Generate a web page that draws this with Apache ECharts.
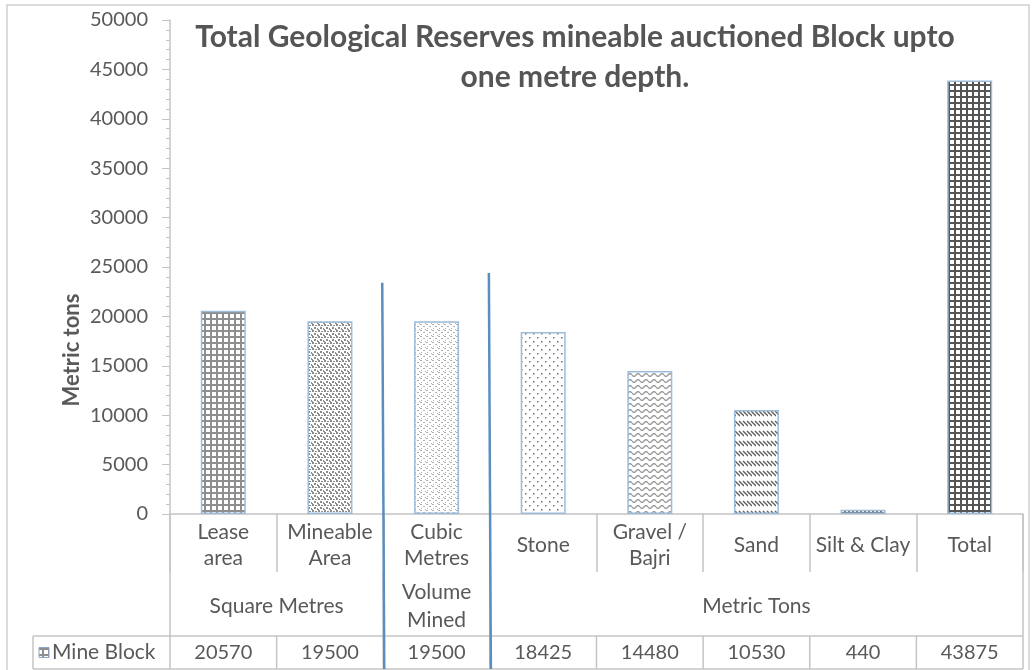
<!DOCTYPE html>
<html>
<head>
<meta charset="utf-8">
<script src="https://cdn.jsdelivr.net/npm/echarts@6/dist/echarts.min.js"></script>
<style>
html, body { margin: 0; padding: 0; background: #fff; }
#main { width: 1032px; height: 670px; }
</style>
</head>
<body>
<div id="main"></div>
<script>
var categories = ['Lease\narea', 'Mineable\nArea', 'Cubic\nMetres', 'Stone', 'Gravel /\nBajri', 'Sand', 'Silt & Clay', 'Total'];
var values = [20570, 19500, 19500, 18425, 14480, 10530, 440, 43875];
var groupNames = ['Square Metres', 'Volume\nMined', 'Metric Tons'];
var groupSpans = [2, 1, 5];
var seriesName = 'Mine Block';
var titleText = 'Total Geological Reserves mineable auctioned Block upto\none metre depth.';
var yName = 'Metric tons';
// tops of the two hand drawn blue dividers, in axis units
var dividerTops = [23400, 24400];

var textColor = '#595959';
var lineColor = '#c4c4c4';
var font = 'Lato';

// fill patterns like the excel ones
function makePattern(w, h, draw) {
    var c = document.createElement('canvas');
    c.width = w;
    c.height = h;
    var g = c.getContext('2d');
    g.fillStyle = '#fff';
    g.fillRect(0, 0, w, h);
    draw(g);
    return { image: c, repeat: 'repeat' };
}

function gridPattern(size, lw, color) {
    return makePattern(size, size, function (g) {
        g.fillStyle = color;
        g.fillRect(0, 0, size, lw);
        g.fillRect(0, 0, lw, size);
    });
}

var patterns = [
    gridPattern(6, 2, '#8e8e8e'),
    makePattern(6, 6, function (g) {
        g.fillStyle = '#8c8c8c';
        g.fillRect(0, 0, 2, 2);
        g.fillRect(3, 1, 2, 1);
        g.fillRect(2, 3, 2, 2);
        g.fillRect(5, 4, 1, 2);
        g.fillRect(0, 5, 1, 1);
    }),
    makePattern(6, 6, function (g) {
        g.fillStyle = '#b0b0b0';
        g.fillRect(0, 0, 2, 1);
        g.fillRect(3, 2, 2, 1);
        g.fillRect(1, 4, 1, 1);
        g.fillRect(5, 5, 1, 1);
    }),
    makePattern(8, 8, function (g) {
        g.fillStyle = '#707070';
        g.fillRect(1, 1, 1.5, 1.5);
        g.fillRect(5, 5, 1.5, 1.5);
    }),
    makePattern(8, 6, function (g) {
        g.strokeStyle = '#9a9a9a';
        g.lineWidth = 1.4;
        g.beginPath();
        for (var x = 0; x <= 8; x += 0.5) {
            var y = 3 + 1.4 * Math.sin(x / 8 * Math.PI * 2);
            if (x === 0) g.moveTo(x, y); else g.lineTo(x, y);
        }
        g.stroke();
    }),
    makePattern(4, 10, function (g) {
        g.strokeStyle = '#5e5e5e';
        g.lineWidth = 1.3;
        g.beginPath();
        g.moveTo(-1, 1);
        g.lineTo(4, 6);
        g.moveTo(3, 1);
        g.lineTo(8, 6);
        g.stroke();
    }),
    gridPattern(4, 2, '#6a6a6a'),
    gridPattern(6, 2, '#555555')
];

var barData = values.map(function (v, i) {
    return { value: v, itemStyle: { color: patterns[i] } };
});

var myChart = echarts.init(document.getElementById('main'));

myChart.setOption({
    animation: false,
    title: {
        text: titleText,
        left: 570,
        top: 12,
        textAlign: 'center',
        textStyle: {
            fontFamily: font,
            fontSize: 30,
            fontWeight: 'bold',
            color: '#555555',
            lineHeight: 40,
            align: 'center'
        }
    },
    grid: {
        left: 170,
        right: 9,
        top: 20,
        bottom: 156
    },
    xAxis: {
        type: 'category',
        data: categories,
        axisLine: { lineStyle: { color: lineColor, width: 1.5 } },
        axisTick: {
            show: true,
            interval: 0,
            length: 58,
            lineStyle: { color: lineColor, width: 1.5 }
        },
        axisLabel: {
            interval: 0,
            margin: 31,
            verticalAlign: 'middle',
            lineHeight: 26,
            fontFamily: font,
            fontSize: 21,
            color: textColor
        }
    },
    yAxis: {
        type: 'value',
        min: 0,
        max: 50000,
        interval: 5000,
        axisLine: { show: true, lineStyle: { color: lineColor, width: 1.5 } },
        axisTick: { show: true, length: 8, lineStyle: { color: lineColor } },
        minorTick: { show: true, splitNumber: 5, length: 4, lineStyle: { color: lineColor } },
        splitLine: { show: false },
        axisLabel: {
            margin: 22,
            fontFamily: font,
            fontSize: 20,
            color: textColor,
            formatter: function (v) { return String(v); }
        }
    },
    series: [{
        name: seriesName,
        type: 'bar',
        barWidth: 45,
        data: barData,
        itemStyle: {
            borderColor: '#9cbcd9',
            borderWidth: 1.5
        }
    }]
});

// data table and annotations under the axis
function buildTable() {
    var xs = categories.map(function (c, i) {
        return myChart.convertToPixel({ xAxisIndex: 0 }, i);
    });
    var half = (xs[1] - xs[0]) / 2;
    var bounds = xs.map(function (x) { return x - half; });
    bounds.push(xs[xs.length - 1] + half);
    var yBase = myChart.convertToPixel({ yAxisIndex: 0 }, 0);
    var catBottom = yBase + 58;
    var rowTop = yBase + 122;
    var rowBottom = 669;
    var leftCell = 33;
    var els = [];

    function line(x1, y1, x2, y2, color, w) {
        els.push({
            type: 'line',
            shape: { x1: x1, y1: y1, x2: x2, y2: y2 },
            style: { stroke: color || lineColor, lineWidth: w || 1.5 },
            z: 10
        });
    }
    function text(x, y, s, opts) {
        opts = opts || {};
        els.push({
            type: 'text',
            x: x,
            y: y,
            rotation: opts.rotation || 0,
            style: {
                text: s,
                fill: textColor,
                font: (opts.bold ? 'bold ' : '') + (opts.size || 21) + 'px ' + font,
                textAlign: 'center',
                textVerticalAlign: 'middle',
                lineHeight: 28
            },
            z: 11
        });
    }

    // outer chart frame
    els.push({
        type: 'rect',
        shape: { x: 7, y: 5, width: 1022, height: 700 },
        style: { fill: null, stroke: '#d0d0d0', lineWidth: 1.5 },
        z: 1
    });

    // table borders
    line(bounds[0], yBase, bounds[0], rowBottom);
    line(bounds[bounds.length - 1], yBase, bounds[bounds.length - 1], rowBottom);
    line(leftCell, rowTop, bounds[bounds.length - 1], rowTop);
    line(leftCell, rowBottom, bounds[bounds.length - 1], rowBottom);
    line(leftCell, rowTop, leftCell, rowBottom);
    for (var i = 1; i < bounds.length - 1; i++) {
        line(bounds[i], rowTop, bounds[i], rowBottom);
    }

    // group labels
    var start = 0;
    for (var g = 0; g < groupNames.length; g++) {
        var gx = (bounds[start] + bounds[start + groupSpans[g]]) / 2;
        text(gx, (catBottom + rowTop) / 2 + 2, groupNames[g]);
        if (start > 0) line(bounds[start], catBottom, bounds[start], rowTop);
        start += groupSpans[g];
    }

    // values row
    var rowMid = (rowTop + rowBottom) / 2;
    values.forEach(function (v, i) {
        text(xs[i], rowMid, String(v), { size: 20 });
    });

    // series key + name
    els.push({
        type: 'rect',
        shape: { x: 39, y: rowMid - 5, width: 10, height: 10 },
        style: { fill: patterns[0], stroke: '#8aa9c8', lineWidth: 1 },
        z: 11
    });
    els.push({
        type: 'text',
        x: 52,
        y: rowMid,
        style: {
            text: seriesName,
            fill: textColor,
            font: '21px ' + font,
            textAlign: 'left',
            textVerticalAlign: 'middle'
        },
        z: 11
    });

    // hand drawn blue dividers
    dividerTops.forEach(function (v, k) {
        var bx = bounds[2 + k];
        var top = myChart.convertToPixel({ yAxisIndex: 0 }, v);
        line(bx - 1, top, bx + 1, rowBottom, '#5b8ec0', 2.5);
    });

    // y axis name, centred on plot + table
    text(72, 350, yName, { rotation: Math.PI / 2, bold: true, size: 22 });

    myChart.setOption({ graphic: { elements: els } });
}

buildTable();
</script>
</body>
</html>
